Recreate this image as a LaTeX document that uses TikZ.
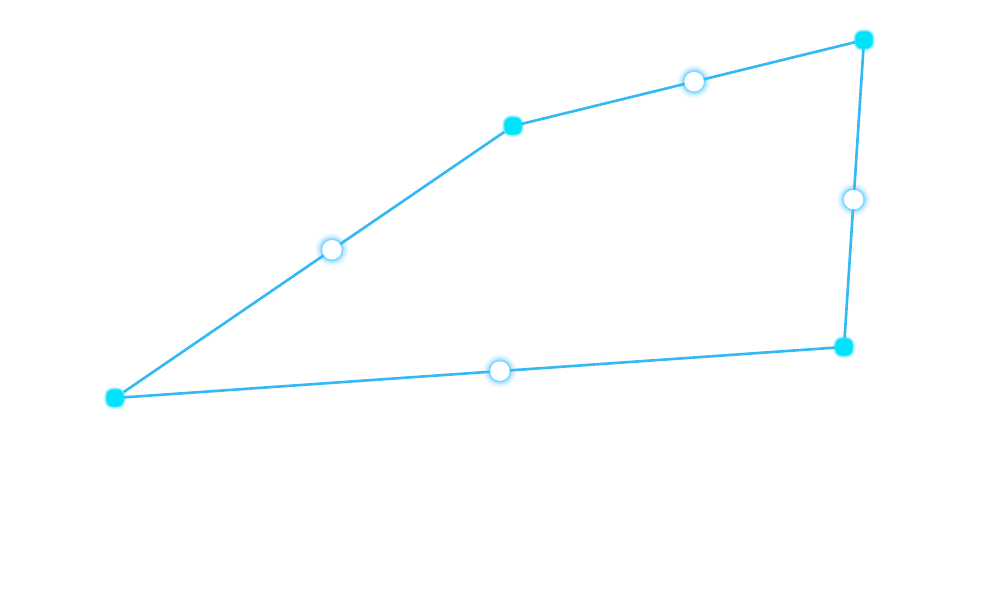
\documentclass[tikz,border=0pt]{standalone}
\usepackage{tikz}
\usetikzlibrary{calc}
\definecolor{edgeblue}{HTML}{35B9F5}
\definecolor{vtxcyan}{HTML}{00E2FA}
\definecolor{glowblue}{HTML}{3FC0FF}
\tikzset{
  vertex/.style={rectangle,rounded corners=3.5pt,inner sep=0pt,minimum size=0.33cm,fill=vtxcyan,
    preaction={draw=vtxcyan,line width=3pt,draw opacity=0.2},
    preaction={draw=vtxcyan,line width=1.8pt,draw opacity=0.35},
    preaction={draw=vtxcyan,line width=0.8pt,draw opacity=0.6}},
  handle/.style={circle,inner sep=0pt,minimum size=0.39cm,fill=white,
    preaction={draw=glowblue,line width=8pt,draw opacity=0.07},
    preaction={draw=glowblue,line width=6pt,draw opacity=0.12},
    preaction={draw=glowblue,line width=4pt,draw opacity=0.22},
    preaction={draw=glowblue,line width=2pt,draw opacity=0.45}},
  edge/.style={draw=edgeblue,line width=1.5pt}
}
\begin{document}
\begin{tikzpicture}[x=0.02cm,y=-0.02cm]
\useasboundingbox (0,0) rectangle (989,592);
\node[vertex] (A) at (115,398) {};
\node[vertex] (B) at (513,126) {};
\node[vertex] (C) at (864,40) {};
\node[vertex] (D) at (844,347) {};
\draw[edge] (A) -- (B) (B) -- (C) (C) -- (D) (D) -- (A);
\node[handle] (AB) at ($(A)!0.545!(B)$) {};
\node[handle] (BC) at ($(B)!0.516!(C)$) {};
\node[handle] (CD) at ($(C)!0.52!(D)$) {};
\node[handle] (DA) at ($(D)!0.472!(A)$) {};
\end{tikzpicture}
\end{document}
